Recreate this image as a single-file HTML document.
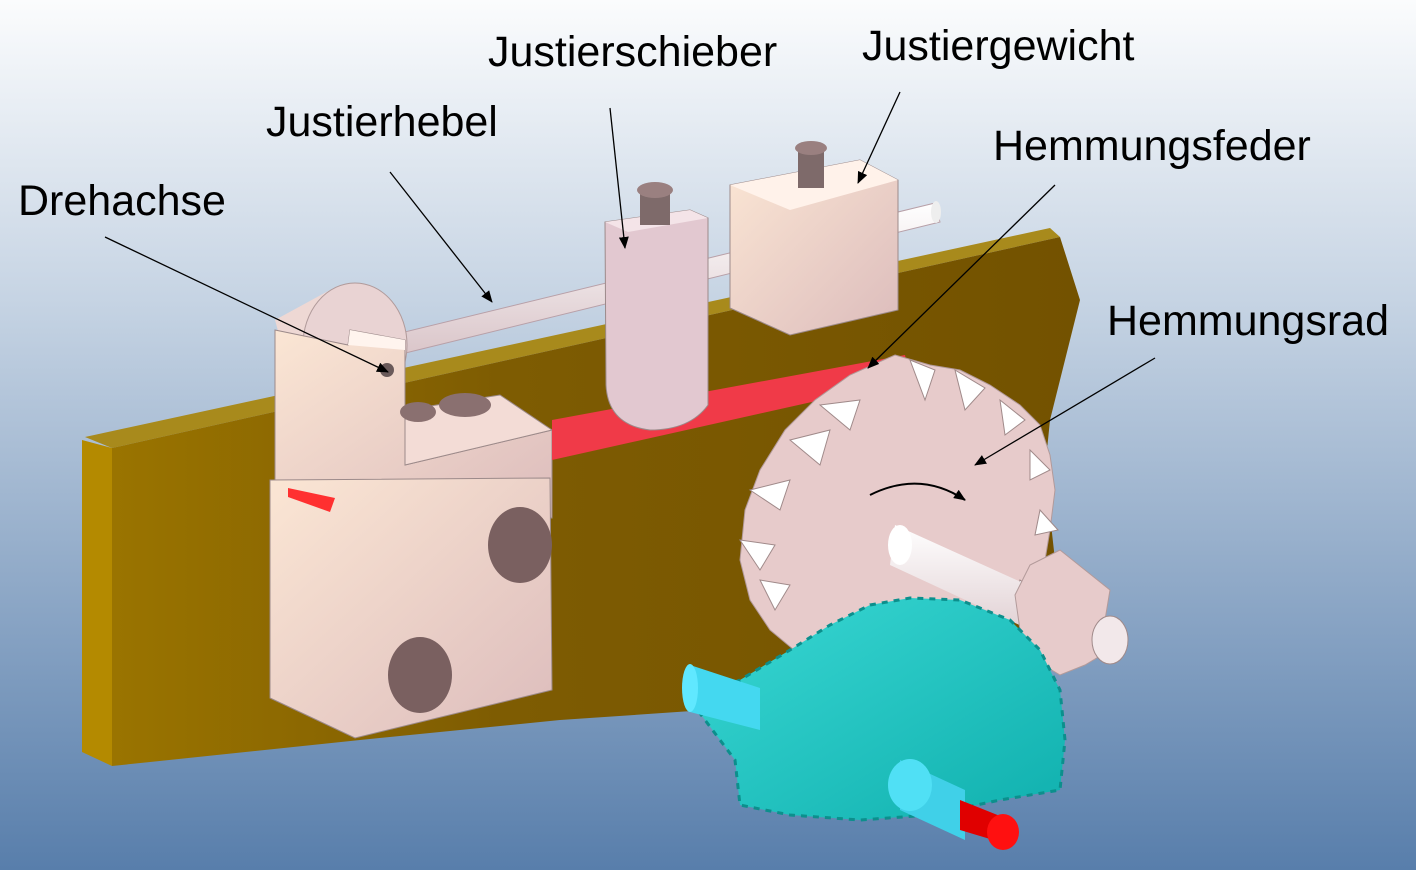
<!DOCTYPE html>
<html><head><meta charset="utf-8"><style>
html,body{margin:0;padding:0;width:1416px;height:870px;overflow:hidden}
svg{display:block}
text{font-family:"Liberation Sans",sans-serif;font-size:43px;fill:#000}
</style></head><body>
<svg width="1416" height="870" viewBox="0 0 1416 870" xmlns="http://www.w3.org/2000/svg">
<defs>
<linearGradient id="bg" x1="0" y1="0" x2="0" y2="1">
<stop offset="0" stop-color="#fbfcfd"/><stop offset="0.35" stop-color="#c5d3e3"/><stop offset="1" stop-color="#587eab"/></linearGradient>
<linearGradient id="plate" x1="0" y1="0" x2="1" y2="0">
<stop offset="0" stop-color="#9a7400"/><stop offset="0.4" stop-color="#7e5c02"/><stop offset="1" stop-color="#735200"/></linearGradient>
<linearGradient id="blk" x1="0" y1="0" x2="1" y2="1">
<stop offset="0" stop-color="#fbe6d4"/><stop offset="1" stop-color="#dcbcbc"/></linearGradient>
<linearGradient id="rod" x1="0" y1="0" x2="0" y2="1">
<stop offset="0" stop-color="#ffffff"/><stop offset="1" stop-color="#d9c4c8"/></linearGradient>
<linearGradient id="teal" x1="0" y1="0" x2="1" y2="1">
<stop offset="0" stop-color="#3ad8d4"/><stop offset="1" stop-color="#10b0ae"/></linearGradient>
<marker id="ah" markerWidth="12" markerHeight="10" refX="11" refY="5" orient="auto" markerUnits="userSpaceOnUse">
<path d="M0,0 L12,5 L0,10 z" fill="#000"/></marker>
</defs>
<rect width="1416" height="870" fill="url(#bg)"/>
<polygon points="82,440 112,448 112,766 82,752" fill="#b48a00"/>
<polygon points="85,437 1050,228 1060,237 112,448" fill="#a88a1c"/>
<polygon points="112,448 1060,237 1080,300 1070,340 1050,420 1045,470 1055,560 1030,640 990,700 780,705 560,720 360,740 112,766" fill="url(#plate)"/>
<polygon points="380,338 935,203 940,222 385,358" fill="url(#rod)" stroke="#b8a0a8" stroke-width="1"/>
<ellipse cx="936" cy="212" rx="5" ry="11" fill="#eee"/>
<polygon points="275,320 330,290 360,400 300,410" fill="#eed8d4"/>
<ellipse cx="355" cy="345" rx="52" ry="62" fill="#e9d3d3" stroke="#b09a9a"/>
<polygon points="275,330 348,345 350,330 405,340 405,465 552,430 552,518 275,480" fill="url(#blk)" stroke="#9c8a8a"/>
<polygon points="348,345 350,330 405,340 405,350" fill="#fff4ee"/>
<polygon points="405,410 500,395 552,430 405,465" fill="#f3dcd6" stroke="#9c8a8a"/>
<circle cx="387" cy="370" r="7" fill="#6a5a5a"/>
<ellipse cx="418" cy="412" rx="18" ry="10" fill="#8a7070"/>
<ellipse cx="465" cy="405" rx="26" ry="12" fill="#8a7070"/>
<polygon points="270,480 550,478 552,690 355,738 270,698" fill="url(#blk)" stroke="#9c8a8a"/>
<polygon points="288,488 335,498 330,512 288,497" fill="#ff3030"/>
<ellipse cx="520" cy="545" rx="32" ry="38" fill="#7a6060"/>
<ellipse cx="420" cy="675" rx="32" ry="38" fill="#7a6060"/>
<polygon points="552,420 905,355 910,380 552,460" fill="#f03a48"/>
<path d="M605,222 L690,210 L708,218 L708,405 Q690,430 650,430 Q608,425 606,385 Z" fill="#e2c8d0" stroke="#9c8a8a"/>
<polygon points="605,222 690,210 708,218 628,232" fill="#f4e4e8"/>
<rect x="640" y="190" width="30" height="35" fill="#7e6a6a"/>
<ellipse cx="655" cy="190" rx="18" ry="8" fill="#9a8080"/>
<polygon points="730,185 860,160 898,180 898,310 790,335 730,308" fill="url(#blk)" stroke="#9c8a8a"/>
<polygon points="730,185 860,160 898,180 790,210" fill="#fff2ea"/>
<rect x="798" y="148" width="26" height="40" fill="#7e6a6a"/>
<ellipse cx="811" cy="148" rx="16" ry="7" fill="#9a8080"/>
<g>
<polygon points="895,355 930,365 960,370 990,385 1020,405 1040,425 1050,455 1055,490 1050,530 1045,560 1030,595 1010,620 980,650 940,670 890,680 840,672 800,655 770,630 750,600 740,560 745,510 760,470 785,430 815,400 850,375" fill="#e7cbcb" stroke="#b29a9a"/>
<g fill="#ffffff" stroke="#a08a8a">
<polygon points="910,360 935,370 925,400"/><polygon points="955,370 985,388 965,410"/><polygon points="1000,400 1025,420 1005,435"/><polygon points="1030,450 1050,470 1030,480"/><polygon points="1040,510 1058,530 1035,535"/><polygon points="1020,580 1040,595 1015,600"/>
<polygon points="750,490 790,480 780,510"/><polygon points="740,540 775,545 760,570"/><polygon points="760,580 790,585 775,610"/><polygon points="790,440 830,430 820,465"/><polygon points="820,405 860,400 850,430"/>
</g>
<path d="M870,495 Q920,470 965,500" fill="none" stroke="#000" stroke-width="2" marker-end="url(#ah)"/>
<polygon points="895,525 1105,620 1095,660 890,565" fill="url(#rod)"/>
<ellipse cx="900" cy="545" rx="12" ry="20" fill="#fff"/>
<polygon points="1060,550 1085,570 1110,590 1105,620 1110,650 1085,665 1060,675 1035,660 1020,630 1015,595 1030,565" fill="#e7cbcb" stroke="#b29a9a"/>
<ellipse cx="1110" cy="640" rx="18" ry="24" fill="#f2e8ea" stroke="#a08a8a"/>
</g>
<path d="M690,700 L740,680 L790,650 L830,625 L870,605 L910,598 L960,600 L1010,620 L1040,650 L1060,690 L1065,740 L1060,790 L1000,800 L930,815 L860,820 L790,815 L740,805 L735,760 Z" fill="url(#teal)" stroke="#0c8f8c" stroke-width="3" stroke-dasharray="6,6"/>
<polygon points="690,665 760,688 760,730 690,712" fill="#44d8f0"/>
<ellipse cx="690" cy="688" rx="8" ry="24" fill="#60e8ff"/>
<polygon points="900,760 965,790 965,840 900,810" fill="#40d0e8"/>
<ellipse cx="910" cy="785" rx="22" ry="26" fill="#50e0f5"/>
<polygon points="960,800 1010,820 1010,845 960,830" fill="#e00000"/>
<ellipse cx="1003" cy="832" rx="16" ry="18" fill="#ff1010"/>
<text x="18" y="215">Drehachse</text>
<text x="266" y="136">Justierhebel</text>
<text x="488" y="66">Justierschieber</text>
<text x="862" y="60">Justiergewicht</text>
<text x="993" y="160">Hemmungsfeder</text>
<text x="1107" y="335">Hemmungsrad</text>
<g stroke="#000" stroke-width="1.3" marker-end="url(#ah)">
<line x1="105" y1="237" x2="388" y2="372"/>
<line x1="390" y1="172" x2="492" y2="302"/>
<line x1="610" y1="108" x2="625" y2="248"/>
<line x1="900" y1="92" x2="858" y2="183"/>
<line x1="1055" y1="185" x2="868" y2="368"/>
<line x1="1155" y1="358" x2="975" y2="465"/>
</g>
</svg>
</body></html>
